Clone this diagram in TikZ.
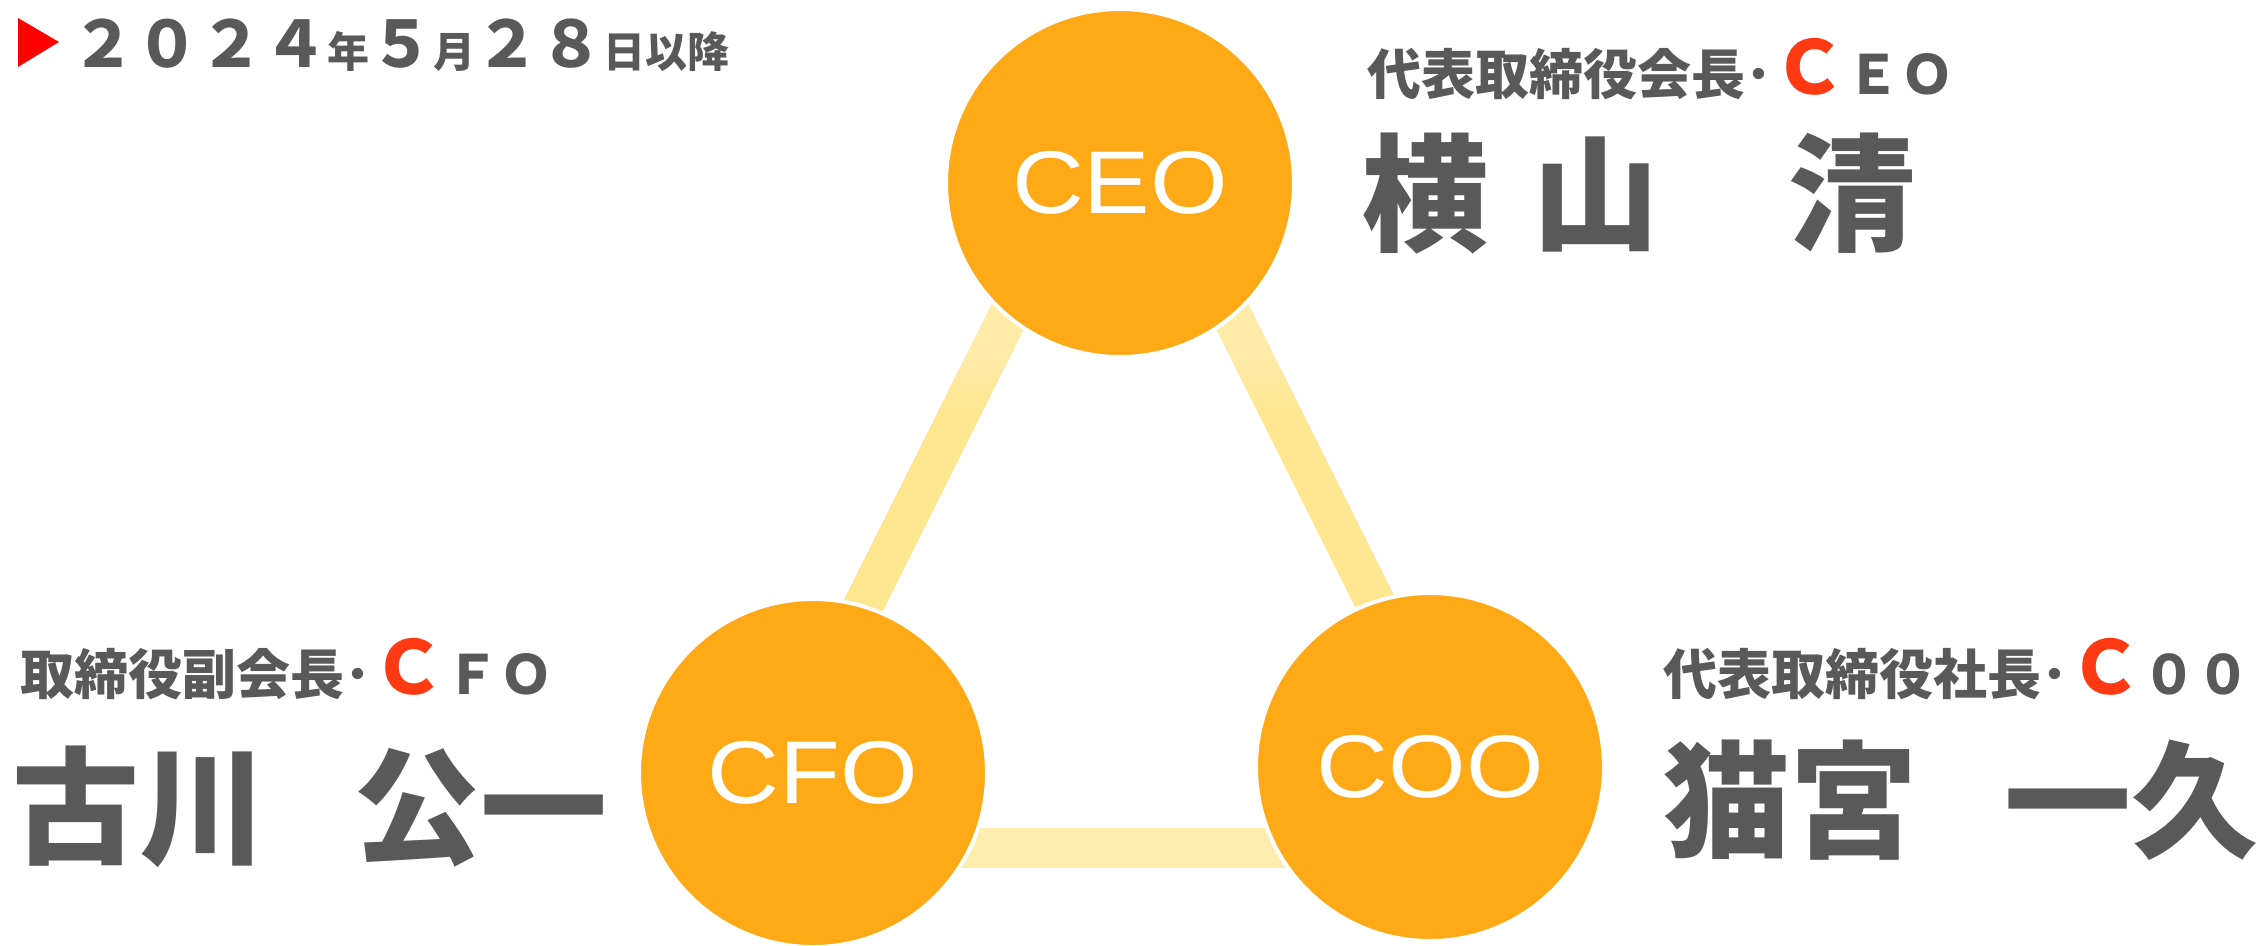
\documentclass[tikz,border=0pt]{standalone}
\usepackage{fontspec}
\usetikzlibrary{calc}
\newfontfamily\jpfont{Noto Sans CJK JP}
\newfontfamily\arialfont{Liberation Sans}[FakeStretch=1.12]

\definecolor{txtgray}{RGB}{89,89,89}
\definecolor{initred}{RGB}{255,58,18}
\definecolor{markred}{RGB}{255,0,0}
\definecolor{discfill}{RGB}{255,169,22}
\definecolor{barlight}{RGB}{255,234,166}
\definecolor{bardark}{RGB}{255,230,145}
\definecolor{barbase}{RGB}{255,237,176}

% side bars: pale near the top circle, deeper further down
\pgfdeclareverticalshading{sidebar}{100bp}{color(0bp)=(bardark); color(53.9bp)=(bardark); color(57.1bp)=(barlight); color(100bp)=(barlight)}

\newcommand{\fsz}[1]{\fontsize{#1}{#1}\selectfont}

\begin{document}
\begin{tikzpicture}[x=1pt,y=-1pt,
  disc/.style={circle,fill=discfill,draw=white,line width=4pt,minimum size=348pt,inner sep=0pt,
    text=white,font=\arialfont\fsz{89}},
  role/.style={anchor=base west,inner sep=0pt,text=txtgray,font=\jpfont\bfseries\fsz{54}},
  person/.style={anchor=base west,inner sep=0pt,text=txtgray,font=\jpfont\bfseries\fsz{127}}]

\useasboundingbox (0,0) rectangle (2264,945);
\fill[white] (0,0) rectangle (2264,945);

% date heading
\fill[markred] (18,18) -- (18,67) -- (59,42) -- cycle;
\node[anchor=base west,inner sep=0pt,text=txtgray,font=\jpfont\bfseries] (date) at (71,67)
  {\fsz{64}２０２４{\fsz{42}年}５{\fsz{42}月}２８{\fsz{42}日以降}};

% frame joining the three positions
\coordinate (ta) at (1120,92);
\coordinate (tl) at (742,848);
\coordinate (tr) at (1498,848);

\shade[shading=sidebar]
  ($(ta)!20pt!90:(tl)$) -- ($(tl)!20pt!-90:(ta)$) -- ($(tl)!20pt!90:(ta)$) -- ($(ta)!20pt!-90:(tl)$) -- cycle;
\shade[shading=sidebar]
  ($(ta)!20pt!90:(tr)$) -- ($(tr)!20pt!-90:(ta)$) -- ($(tr)!20pt!90:(ta)$) -- ($(ta)!20pt!-90:(tr)$) -- cycle;
\draw[barbase,line width=40pt] (tl) -- (tr);

% the three officers
\node[disc] (ceo) at (1120,183) {CEO};
\node[disc] (cfo) at (813,773) {CFO};
\node[disc] (coo) at (1430,767) {COO};

% titles and names
\node[role] (ceotitle) at (1367,94) {代表取締役会長･{\color{initred}\fsz{74}Ｃ}ＥＯ};
\node[person] (ceoname) at (1361,241) {横\hspace{44pt}山\hspace{129pt}清};

\node[role] (cfotitle) at (20,694) {取締役副会長･{\color{initred}\fsz{74}Ｃ}ＦＯ};
\node[person] (cfoname) at (12,854) {古川\hspace{87pt}公一};

\node[role] (cootitle) at (1663,694) {代表取締役社長･{\color{initred}\fsz{74}Ｃ}００};
\node[person] (cooname) at (1663,848) {猫宮\hspace{87pt}一久};
\end{tikzpicture}
\end{document}
